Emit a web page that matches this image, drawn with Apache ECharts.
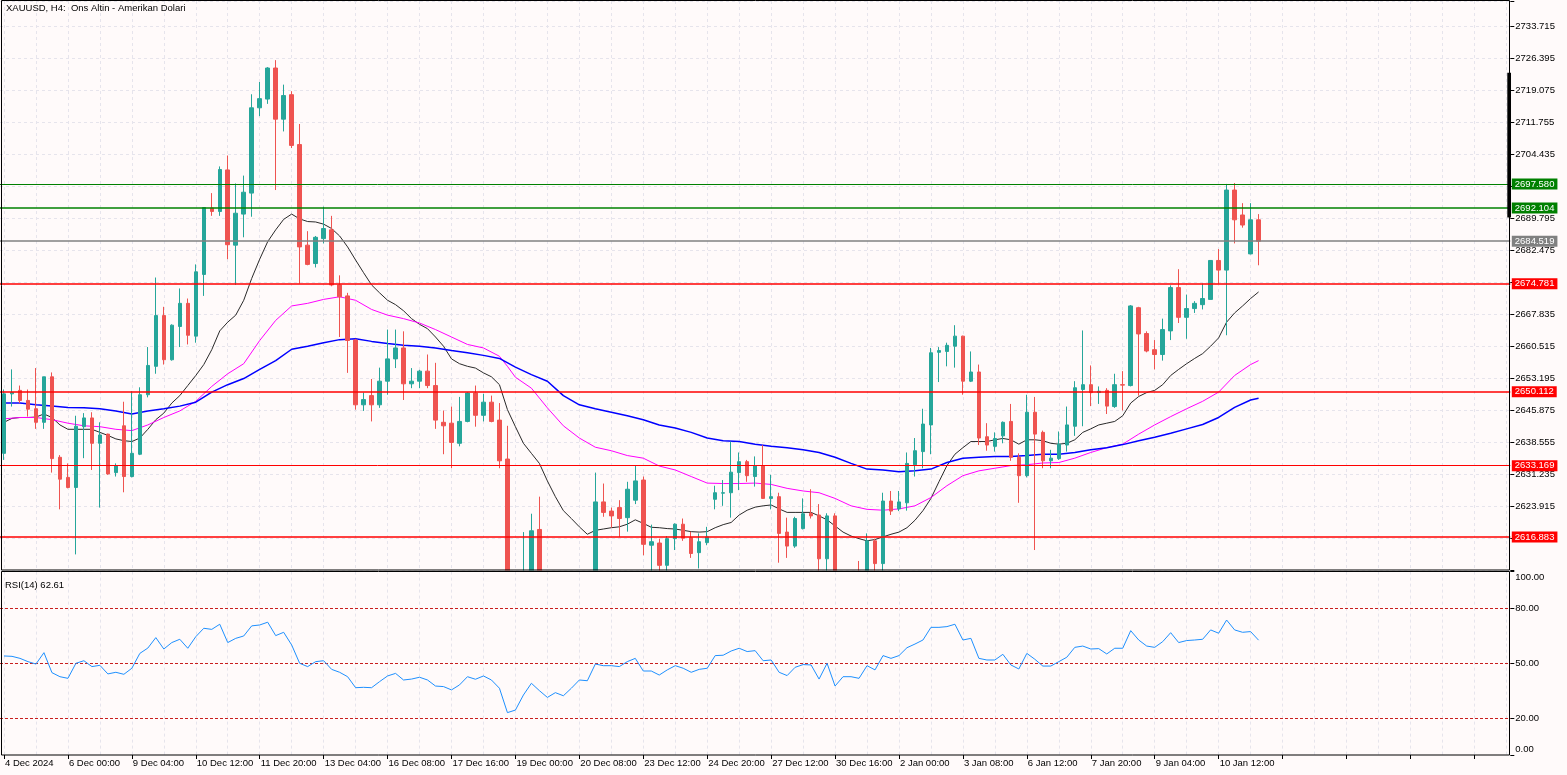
<!DOCTYPE html>
<html>
<head>
<meta charset="utf-8">
<script src="https://cdn.jsdelivr.net/npm/echarts@6/dist/echarts.min.js"></script>
<style>
html,body{margin:0;padding:0;background:#fffafa;}
#chart{width:1567px;height:775px;}
</style>
</head>
<body>
<div id="chart"></div>
<script>
// ---------------- DATA ----------------
const tickLabels = ['4 Dec 2024','6 Dec 00:00','9 Dec 04:00','10 Dec 12:00','11 Dec 20:00','13 Dec 04:00','16 Dec 08:00','17 Dec 16:00','19 Dec 00:00','20 Dec 08:00','23 Dec 12:00','24 Dec 20:00','27 Dec 12:00','30 Dec 16:00','2 Jan 00:00','3 Jan 08:00','6 Jan 12:00','7 Jan 20:00','9 Jan 04:00','10 Jan 12:00'];

const priceTicks = ['2733.715','2726.395','2719.075','2711.755','2704.435','2689.795','2682.475','2667.835','2660.515','2653.195','2645.875','2638.555','2631.235','2623.915'];
const rsiTicks = [0, 20, 50, 80, 100];
const rsiLevels = [80, 50, 20];

const opens = [
2636.0,2649.6,2650.4,2648.1,2646.2,2643.1,2653.5,2635.1,2630.5,2628.2,
2642.1,2644.1,2638.3,2640.4,2631.6,2642.3,2630.7,2635.8,2649.4,2655.9,
2667.5,2657.4,2665.0,2670.3,2662.8,2676.9,2692.1,2691.3,2700.8,2683.6,
2690.7,2695.5,2715.0,2717.0,2724.1,2712.4,2718.0,2706.6,2683.6,2679.4,
2685.1,2687.1,2674.5,2672.0,2661.9,2647.1,2649.2,2647.1,2652.5,2657.6,
2660.1,2651.9,2652.5,2654.8,2651.5,2643.1,2642.9,2638.3,2643.3,2649.8,
2644.7,2647.7,2643.6,2634.7,2589.0,2597.0,2607.0,2618.6,2600.0,2590.0,
2594.0,2597.0,2592.0,2600.0,2604.0,2624.9,2622.8,2623.6,2621.3,2625.3,
2629.9,2615.0,2615.5,2610.4,2616.5,2619.8,2616.7,2613.3,2615.6,2625.5,
2626.9,2627.0,2631.6,2634.1,2630.7,2633.1,2625.7,2626.1,2618.0,2614.8,
2618.8,2622.3,2621.9,2611.9,2621.7,2603.0,2600.0,2604.0,2601.0,2616.0,
2610.8,2625.1,2623.3,2624.7,2633.4,2636.4,2642.5,2659.1,2659.3,2660.5,
2662.8,2652.5,2654.6,2639.8,2637.6,2640.0,2643.3,2635.1,2630.9,2645.4,
2640.8,2634.3,2634.8,2637.9,2642.2,2650.6,2651.7,2649.9,2650.4,2646.7,
2651.7,2651.5,2669.3,2663.4,2659.7,2658.6,2664.0,2673.9,2667.1,2669.1,
2670.0,2671.2,2680.1,2677.9,2696.2,2690.5,2681.6,2689.4];

const highs = [
2650.6,2655.2,2651.5,2650.6,2655.5,2653.5,2654.5,2635.6,2633.7,2644.6,
2645.2,2645.4,2643.1,2640.5,2633.7,2647.8,2650.2,2651.1,2660.3,2676.2,
2669.5,2665.5,2673.7,2671.4,2679.2,2692.3,2695.5,2701.6,2704.1,2697.7,
2699.5,2718.1,2720.9,2724.3,2725.9,2720.3,2718.8,2711.3,2686.8,2685.7,
2692.4,2690.3,2676.7,2672.7,2662.2,2649.9,2653.0,2655.6,2664.3,2664.3,
2663.9,2655.5,2655.1,2658.6,2656.7,2645.8,2646.7,2648.9,2650.0,2651.5,
2649.6,2649.2,2647.5,2642.3,2600.0,2618.0,2622.2,2626.1,2605.0,2597.0,
2602.0,2604.0,2603.0,2607.0,2631.6,2629.1,2623.6,2625.3,2629.5,2633.1,
2630.7,2619.7,2616.5,2617.1,2620.0,2621.1,2618.1,2617.7,2619.2,2628.6,
2629.9,2638.7,2636.2,2634.5,2635.3,2637.9,2631.1,2627.0,2621.3,2621.5,
2625.7,2627.8,2624.4,2622.3,2622.3,2608.0,2607.0,2611.4,2617.7,2616.5,
2627.0,2627.4,2627.4,2636.2,2639.5,2646.2,2660.1,2660.3,2661.3,2665.3,
2662.9,2659.3,2656.3,2642.9,2640.8,2643.3,2647.3,2636.0,2649.4,2648.9,
2641.2,2636.8,2641.0,2646.7,2652.5,2664.1,2656.1,2651.3,2650.9,2654.2,
2654.8,2669.9,2669.5,2663.9,2661.9,2666.8,2674.4,2678.1,2672.3,2670.8,
2674.8,2680.2,2682.7,2697.6,2697.8,2693.2,2693.2,2690.7];

const lows = [
2634.5,2646.7,2647.5,2644.4,2641.6,2641.6,2631.6,2623.2,2628.0,2612.9,
2634.9,2632.2,2623.6,2631.1,2630.7,2627.1,2630.5,2635.6,2648.8,2654.2,
2656.3,2657.2,2660.3,2660.9,2661.3,2672.0,2690.3,2690.3,2680.4,2674.5,
2685.4,2690.1,2713.1,2715.9,2696.2,2709.6,2705.8,2674.8,2679.0,2678.5,
2684.0,2674.2,2662.6,2654.4,2646.0,2645.7,2643.3,2646.4,2649.4,2655.5,
2648.2,2650.9,2650.9,2650.9,2641.6,2635.8,2632.6,2637.6,2643.1,2642.1,
2643.3,2643.1,2632.6,2586.0,2584.0,2595.0,2605.0,2598.0,2585.0,2583.0,
2589.0,2590.0,2588.0,2596.0,2601.0,2621.5,2619.0,2616.9,2618.1,2624.4,
2612.7,2607.5,2607.0,2608.5,2613.9,2616.0,2612.1,2609.7,2615.0,2623.2,
2624.0,2621.3,2627.6,2629.5,2628.4,2625.6,2623.2,2611.0,2612.1,2614.4,
2618.6,2621.1,2608.0,2608.5,2600.0,2597.0,2596.0,2598.0,2599.0,2607.0,
2608.0,2621.9,2622.8,2622.9,2630.7,2632.6,2635.8,2652.3,2655.9,2655.6,
2649.4,2652.3,2637.9,2636.6,2636.4,2638.3,2634.3,2624.7,2630.5,2613.9,
2632.6,2632.6,2634.5,2636.4,2640.0,2642.2,2646.8,2647.3,2645.0,2646.4,
2645.8,2651.3,2649.2,2659.1,2655.2,2657.2,2661.9,2665.8,2662.2,2668.1,
2668.9,2671.2,2674.8,2663.0,2684.0,2687.6,2681.5,2679.0];

const closes = [
2649.6,2649.9,2648.1,2646.1,2643.1,2653.5,2634.8,2630.1,2628.2,2642.2,
2644.1,2638.3,2640.2,2631.3,2633.1,2630.7,2636.0,2649.4,2656.1,2667.5,
2657.4,2665.3,2670.3,2663.0,2677.5,2692.2,2691.3,2700.9,2683.7,2690.9,
2695.7,2715.0,2717.1,2724.1,2712.4,2717.8,2706.4,2683.2,2679.2,2685.4,
2687.4,2674.5,2671.8,2661.8,2647.1,2648.3,2647.1,2652.5,2657.6,2660.1,
2651.9,2652.5,2654.8,2651.5,2643.6,2642.3,2638.5,2643.3,2649.8,2644.7,
2647.7,2643.3,2634.3,2589.0,2597.0,2607.0,2618.3,2600.0,2590.0,2594.0,
2597.0,2592.0,2600.0,2604.0,2624.9,2622.5,2621.7,2621.1,2627.8,2629.7,
2615.2,2615.8,2610.4,2616.5,2619.8,2616.6,2613.1,2615.8,2616.9,2627.0,
2627.0,2631.7,2634.1,2630.9,2633.1,2625.7,2626.1,2617.7,2614.8,2621.1,
2622.2,2621.7,2611.9,2621.7,2603.0,2600.0,2604.0,2601.0,2616.0,2610.8,
2625.1,2622.8,2624.9,2633.7,2636.6,2642.7,2659.0,2659.5,2660.7,2662.8,
2652.5,2654.6,2639.5,2637.9,2639.4,2643.1,2635.1,2630.9,2645.4,2640.4,
2634.3,2634.9,2638.1,2642.5,2651.0,2651.7,2649.9,2650.2,2646.8,2651.7,
2651.6,2669.7,2663.3,2659.4,2658.6,2664.3,2673.9,2667.1,2669.1,2670.3,
2671.4,2680.1,2677.9,2696.2,2689.4,2688.2,2689.4,2684.5];

// fast moving average (black), one value per bar
const maFast = [
2643.1,2644.0,2644.2,2644.2,2644.3,2645.0,2644.2,2642.5,2641.5,2641.5,
2641.5,2641.5,2640.8,2640.1,2639.3,2638.9,2638.7,2639.5,2641.5,2643.7,
2645.2,2647.5,2649.2,2651.5,2653.8,2656.3,2659.7,2664.0,2666.0,2667.6,
2671.0,2676.0,2680.4,2684.4,2687.1,2689.5,2690.7,2689.6,2689.0,2688.9,
2688.4,2687.4,2685.7,2683.2,2680.2,2677.3,2674.5,2672.7,2671.0,2670.0,
2668.6,2666.8,2665.5,2664.5,2662.6,2660.5,2657.6,2656.5,2655.9,2655.5,
2654.4,2653.5,2651.7,2646.0,2642.1,2638.3,2636.0,2633.7,2629.7,2626.1,
2622.9,2621.1,2619.2,2617.5,2618.4,2618.7,2619.0,2619.2,2619.8,2620.8,
2620.0,2619.1,2619.0,2618.8,2618.7,2618.4,2618.1,2618.0,2618.1,2619.0,
2619.7,2620.2,2621.9,2623.0,2623.7,2624.0,2624.2,2623.3,2622.5,2622.5,
2622.5,2622.5,2621.7,2620.8,2619.4,2618.0,2617.1,2616.5,2616.0,2616.3,
2616.9,2617.5,2618.0,2619.0,2620.7,2622.9,2625.7,2629.5,2633.2,2635.8,
2637.3,2638.7,2638.7,2638.7,2639.1,2639.4,2639.1,2638.1,2639.1,2639.1,
2638.9,2638.3,2638.1,2638.3,2639.1,2640.8,2641.6,2642.5,2642.9,2643.3,
2644.6,2647.5,2649.0,2649.9,2650.4,2651.7,2653.8,2655.2,2656.5,2657.7,
2658.8,2660.5,2662.4,2666.0,2668.1,2669.7,2671.4,2672.9];

// middle moving average (magenta): [bar index, value]
const maMid = [[0,2643.9],[2,2644.2],[4,2644.2],[6,2643.7],[8,2642.9],[10,2642.3],[12,2642.1],[14,2641.5],[16,2641.2],[18,2642.5],[20,2644.2],[22,2645.7],[24,2647.9],[26,2651.3],[28,2654.2],[30,2656.5],[32,2661.8],[34,2666.4],[36,2669.7],[38,2670.3],[40,2671.2],[42,2671.8],[44,2671.0],[46,2668.9],[48,2667.6],[50,2666.8],[52,2665.8],[54,2664.3],[56,2662.6],[58,2660.9],[60,2660.1],[62,2658.2],[63,2655.9],[64,2653.4],[66,2650.9],[68,2646.4],[70,2642.3],[72,2639.5],[74,2637.4],[76,2636.6],[78,2635.5],[80,2634.9],[82,2633.1],[84,2632.2],[86,2630.7],[88,2629.2],[90,2629.1],[92,2629.1],[94,2629.2],[96,2628.9],[98,2628.0],[100,2627.4],[102,2627.0],[104,2625.7],[106,2624.0],[108,2623.2],[110,2623.0],[112,2623.3],[114,2624.0],[116,2625.9],[118,2628.6],[120,2630.9],[122,2632.0],[124,2632.6],[126,2633.2],[128,2633.4],[130,2633.8],[132,2633.9],[134,2634.9],[136,2636.2],[138,2637.3],[140,2638.1],[142,2640.4],[144,2642.5],[146,2644.4],[148,2646.2],[150,2647.9],[152,2650.0],[154,2653.8],[156,2656.3],[157,2657.2]];

// slow moving average (blue): [bar index, value]
const maSlow = [[0,2647.5],[2,2647.5],[4,2647.1],[6,2646.8],[8,2646.5],[10,2646.4],[12,2646.2],[14,2645.7],[16,2645.0],[18,2645.7],[20,2646.2],[22,2646.8],[24,2647.7],[26,2650.0],[28,2651.7],[30,2653.1],[32,2655.2],[34,2657.2],[36,2659.8],[38,2660.5],[40,2661.3],[42,2662.0],[44,2662.2],[46,2661.6],[48,2661.1],[50,2660.7],[52,2660.5],[54,2660.1],[56,2659.5],[58,2659.0],[60,2658.4],[62,2657.7],[64,2655.7],[66,2654.0],[68,2652.5],[70,2649.2],[72,2647.1],[74,2646.2],[76,2645.4],[78,2644.6],[80,2643.7],[82,2642.5],[84,2641.8],[86,2640.8],[88,2639.5],[90,2638.9],[92,2638.7],[94,2638.1],[96,2637.6],[98,2637.3],[100,2636.8],[102,2636.2],[104,2635.1],[106,2633.7],[108,2632.4],[110,2632.2],[112,2631.8],[114,2632.0],[116,2632.4],[118,2633.9],[120,2634.9],[122,2635.1],[124,2635.3],[126,2635.3],[128,2635.5],[130,2635.8],[132,2635.8],[134,2636.2],[136,2636.8],[138,2637.3],[140,2638.0],[142,2638.9],[144,2639.7],[146,2640.6],[148,2641.6],[150,2642.6],[152,2644.2],[154,2646.5],[156,2648.2],[157,2648.6]];

const rsiValues = [
54.0,53.8,52.7,50.9,49.6,55.8,44.9,42.7,41.8,50.0,
51.4,48.2,48.9,44.2,45.1,44.0,47.3,55.4,58.3,64.0,
57.8,61.3,63.1,58.2,64.5,69.1,68.5,71.3,61.3,63.6,
64.9,70.4,70.9,72.4,65.1,66.9,60.0,50.0,48.2,50.9,
51.4,46.7,45.1,42.7,36.7,36.9,36.7,40.0,43.1,44.5,
40.9,41.4,42.4,40.9,37.6,37.3,35.5,38.2,42.7,41.3,
43.1,40.9,36.4,23.1,24.5,32.7,39.1,35.1,31.4,34.0,
32.3,36.4,40.9,40.5,49.6,48.7,48.7,48.2,50.9,52.7,
45.8,45.8,43.6,46.4,48.7,47.3,45.1,46.7,47.3,54.2,
54.4,56.7,58.2,56.4,56.9,51.4,51.8,45.1,43.3,47.8,
49.3,49.1,41.4,50.0,37.6,42.7,42.7,41.8,48.7,46.4,
54.2,52.7,54.2,58.5,60.5,62.7,69.6,69.6,70.0,71.3,
62.7,63.6,52.7,51.8,51.8,54.9,49.1,46.9,55.4,52.2,
48.5,48.5,50.9,53.3,58.7,59.4,57.8,58.0,55.1,58.2,
58.2,67.8,62.7,59.4,58.7,61.8,66.7,61.3,62.4,62.7,
63.1,68.2,66.4,73.6,68.2,66.9,67.3,62.61];

// horizontal price levels
const levelValues = [2697.580, 2692.104, 2684.519, 2674.781, 2650.112, 2633.169, 2616.883];
// activity range mark on the price scale [top, bottom]
const scaleRange = [2723.0, 2689.9];

// ---------------- STYLE ----------------
const levelColors = ['#008000','#008000','#808080','#ff0000','#ff0000','#ff0000','#ff0000'];
const levelWidths = [1, 1.5, 1.5, 1.5, 1.5, 1, 1.5];
const FONT = 'Liberation Sans';
const FS = 9.5;
const BG = '#fffafa';
const gridColor = '#e6e4ec';
const slotCount = 189; // visible bar slots incl. empty right margin

const cats = Array.from({length: slotCount}, (_, i) => String(i));
const candleData = opens.map((o, i) => [o, closes[i], lows[i], highs[i]]);

const chart = echarts.init(document.getElementById('chart'), null, {renderer: 'canvas'});

const option = {
  backgroundColor: BG,
  animation: false,
  title: [
    {text: 'XAUUSD, H4:  Ons Altin - Amerikan Dolari', left: 6, top: 3, padding: 0, z: 50,
     textStyle: {fontFamily: FONT, fontSize: FS, fontWeight: 'normal', color: '#000'}},
    {text: 'RSI(14) ' + rsiValues[rsiValues.length - 1].toFixed(2), left: 5, top: 580, padding: 0, z: 50,
     textStyle: {fontFamily: FONT, fontSize: FS, fontWeight: 'normal', color: '#000'}}
  ],
  grid: [
    {left: -1.7, width: 1512, top: 1, height: 569.25},
    {left: -1.7, width: 1512, top: 571.6, height: 183.4}
  ],
  xAxis: [
    {type: 'category', gridIndex: 0, data: cats, boundaryGap: true,
     axisLine: {show: false}, axisTick: {show: false}, axisLabel: {show: false},
     splitLine: {show: true, interval: 3, alignWithLabel: true, lineStyle: {color: gridColor, type: [3, 3], width: 1}}},
    {type: 'category', gridIndex: 1, data: cats, boundaryGap: true, z: 4,
     axisLine: {show: false},
     axisTick: {show: true, interval: 7, alignWithLabel: true, length: 4, lineStyle: {color: '#000'}},
     axisLabel: {show: true, interval: 7, align: 'left', margin: 3, padding: [0, 0, 0, 1],
       fontFamily: FONT, fontSize: FS, color: '#000',
       formatter: (v, i) => tickLabels[i / 8] || ''},
     splitLine: {show: true, interval: 3, alignWithLabel: true, lineStyle: {color: gridColor, type: [3, 3], width: 1}}}
  ],
  yAxis: [
    {type: 'value', gridIndex: 0, position: 'right', min: 2609.275, max: 2739.42, interval: 7.32,
     axisLine: {show: false},
     axisTick: {show: true, length: 4, lineStyle: {color: '#000'}},
     axisLabel: {margin: 5, fontFamily: FONT, fontSize: FS, color: '#000',
       formatter: v => priceTicks.find(t => Math.abs(parseFloat(t) - v) < 0.01) || ''},
     splitLine: {show: true, lineStyle: {color: gridColor, type: [3, 3], width: 1}}},
    {type: 'value', gridIndex: 1, position: 'right', min: 0, max: 100, z: 4,
     axisLine: {show: false},
     axisTick: {show: true, length: 4, customValues: rsiTicks, lineStyle: {color: '#000'}},
     axisLabel: {margin: 5, customValues: rsiTicks, fontFamily: FONT, fontSize: FS, color: '#000',
       formatter: v => v === 100 ? '{t|100.00}' : (v === 0 ? '{b|0.00}' : v.toFixed(2)),
       rich: {
         t: {fontFamily: FONT, fontSize: FS, color: '#000', padding: [11, 0, 0, 0]},
         b: {fontFamily: FONT, fontSize: FS, color: '#000', padding: [0, 0, 12, 0]}
       }},
     splitLine: {show: false}}
  ],
  series: [
    {type: 'candlestick', name: 'XAUUSD', xAxisIndex: 0, yAxisIndex: 0, data: candleData,
     barWidth: 4, clip: true, z: 2,
     itemStyle: {color: '#26a69a', color0: '#ef5350', borderColor: '#26a69a', borderColor0: '#ef5350', borderWidth: 1},
     markLine: {
       symbol: ['none', 'none'], silent: true, animation: false,
       data: levelValues.map((v, i) => ({
         yAxis: v,
         lineStyle: {color: levelColors[i], width: levelWidths[i], type: 'solid'},
         label: {show: true, position: 'end', distance: 1.5, formatter: v.toFixed(3),
           color: '#fff', backgroundColor: levelColors[i], padding: [1, 3, 0, 3],
           fontFamily: FONT, fontSize: FS, lineHeight: 10}
       }))
     }},
    {type: 'line', name: 'MA fast', xAxisIndex: 0, yAxisIndex: 0, data: maFast, z: 2,
     showSymbol: false, symbol: 'none', lineStyle: {color: '#2a2a2a', width: 1}},
    {type: 'line', name: 'MA mid', xAxisIndex: 0, yAxisIndex: 0, data: maMid, z: 2,
     showSymbol: false, symbol: 'none', lineStyle: {color: '#ff00ff', width: 1}},
    {type: 'line', name: 'MA slow', xAxisIndex: 0, yAxisIndex: 0, data: maSlow, z: 2,
     showSymbol: false, symbol: 'none', lineStyle: {color: '#0000ff', width: 1.5}},
    {type: 'custom', name: 'scale range', xAxisIndex: 0, yAxisIndex: 0, z: 20,
     data: [[slotCount - 1, scaleRange[0], scaleRange[1]]],
     renderItem: (params, api) => {
       const a = api.coord([api.value(0), api.value(1)]);
       const b = api.coord([api.value(0), api.value(2)]);
       return {type: 'rect', shape: {x: a[0] + 1, y: a[1], width: 3.7, height: b[1] - a[1]}, style: {fill: '#000'}};
     }},
    {type: 'line', name: 'RSI', xAxisIndex: 1, yAxisIndex: 1, data: rsiValues, z: 5,
     showSymbol: false, symbol: 'none', lineStyle: {color: '#1e90ff', width: 1},
     markLine: {
       symbol: ['none', 'none'], silent: true, animation: false,
       label: {show: false},
       lineStyle: {color: '#c81e1e', type: [3, 2], width: 1},
       data: rsiLevels.map(v => ({yAxis: v}))
     }}
  ],
  graphic: [
    // panel mask: keeps price bars that run below the price panel out of the RSI panel
    {type: 'rect', silent: true, z: 3, shape: {x: 0, y: 570.5, width: 1509.5, height: 184.5},
     style: {fill: BG, stroke: null}},
    {type: 'rect', silent: true, z: 100, shape: {x: 1.5, y: 0.5, width: 1508, height: 569.5},
     style: {fill: null, stroke: '#000', lineWidth: 1}},
    {type: 'rect', silent: true, z: 100, shape: {x: 1.5, y: 571.5, width: 1508, height: 183.5},
     style: {fill: null, stroke: '#000', lineWidth: 1}}
  ]
};
chart.setOption(option);
</script>
</body>
</html>
